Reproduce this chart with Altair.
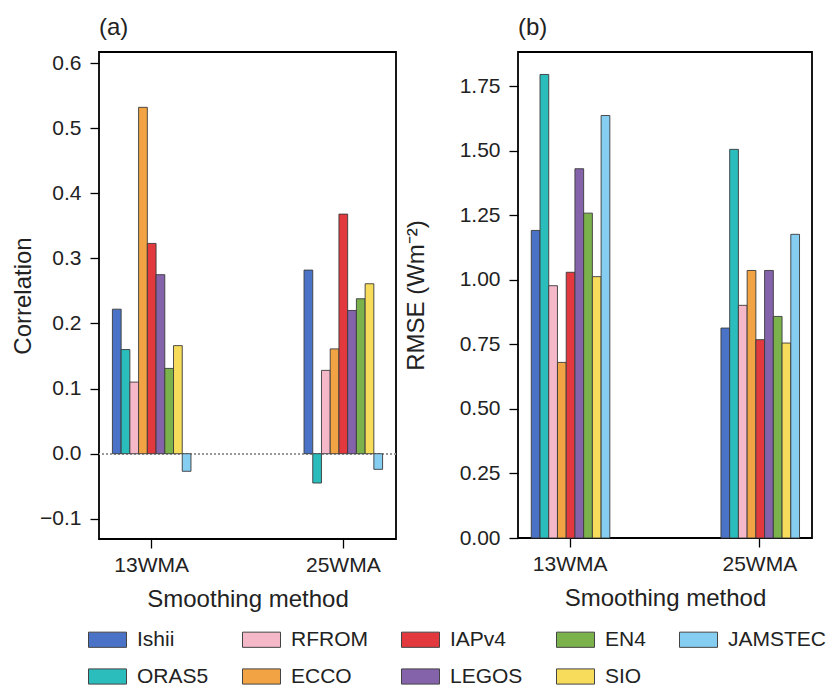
import altair as alt
import pandas as pd

methods = ["13WMA", "25WMA"]
datasets = ["Ishii", "ORAS5", "RFROM", "ECCO", "IAPv4", "LEGOS", "EN4", "SIO", "JAMSTEC"]
colors = ["#4a73c8", "#2bbcbc", "#f5b8c9", "#f2a444", "#e2393f", "#8563aa", "#7bb24c", "#f7dc5c", "#86cdf2"]

corr_13 = [0.222, 0.160, 0.110, 0.532, 0.323, 0.275, 0.131, 0.166, -0.027]
corr_25 = [0.282, -0.045, 0.128, 0.161, 0.368, 0.220, 0.238, 0.261, -0.024]
rmse_13 = [1.191, 1.795, 0.977, 0.680, 1.029, 1.430, 1.258, 1.012, 1.636]
rmse_25 = [0.813, 1.505, 0.901, 1.036, 0.768, 1.036, 0.858, 0.755, 1.176]

corr_ticks = [-0.1, 0.0, 0.1, 0.2, 0.3, 0.4, 0.5, 0.6]
rmse_ticks = [0.0, 0.25, 0.5, 0.75, 1.0, 1.25, 1.5, 1.75]

legend_order = ["Ishii", "RFROM", "IAPv4", "EN4", "JAMSTEC", "ORAS5", "ECCO", "LEGOS", "SIO"]
legend_colors = [colors[datasets.index(d)] for d in legend_order]

rows = []
for m, cv, rv in [(methods[0], corr_13, rmse_13), (methods[1], corr_25, rmse_25)]:
    for d, c, r in zip(datasets, cv, rv):
        rows.append({"method": m, "dataset": d, "corr": c, "rmse": r})
df = pd.DataFrame(rows)

FONT = "Liberation Sans"
TXT = "#222222"

fill_enc = alt.Fill(
    "dataset:N",
    scale=alt.Scale(domain=legend_order, range=legend_colors),
    legend=alt.Legend(
        title=None,
        orient="none",
        legendX=-11,
        legendY=568,
        direction="horizontal",
        columns=5,
        symbolType="M-1,-0.4L1,-0.4L1,0.4L-1,0.4Z",
        symbolSize=1444,
        symbolStrokeColor="#444444",
        symbolStrokeWidth=1,
        symbolOpacity=1,
        labelFontSize=21,
        labelFont=FONT,
        labelColor=TXT,
        labelOffset=10,
        columnPadding=31,
        rowPadding=7,
    ),
)

x_scale = alt.Scale(paddingInner=0.59, paddingOuter=0.07)
xoff = alt.XOffset("dataset:N", sort=datasets, scale=alt.Scale(paddingInner=0, paddingOuter=0))


def x_enc():
    return alt.X(
        "method:N",
        sort=methods,
        scale=x_scale,
        axis=alt.Axis(title="Smoothing method", labelAngle=0, labelPadding=6, titlePadding=12),
    )


def panel_title(txt):
    return alt.TitleParams(
        txt, anchor="start", frame="group", fontSize=24, fontWeight="normal", font=FONT, color=TXT, offset=12
    )


bars_a = alt.Chart(df).mark_bar(stroke="#3a3a3a", strokeWidth=0.9).encode(
    x=x_enc(),
    xOffset=xoff,
    y=alt.Y(
        "corr:Q",
        scale=alt.Scale(domain=[-0.131, 0.617], nice=False, zero=False),
        axis=alt.Axis(title="Correlation", values=corr_ticks, format=".1f", labelPadding=9, titlePadding=4),
    ),
    y2=alt.datum(0),
    fill=fill_enc,
)
zero_line = alt.Chart(df).mark_rule(color="#9a9a9a", strokeDash=[2, 2], strokeWidth=1).encode(y=alt.datum(0))

panel_a = alt.layer(zero_line, bars_a).properties(width=297, height=487, title=panel_title("(a)"))

bars_b = alt.Chart(df).mark_bar(stroke="#3a3a3a", strokeWidth=0.9).encode(
    x=x_enc(),
    xOffset=xoff,
    y=alt.Y(
        "rmse:Q",
        scale=alt.Scale(domain=[0, 1.882], nice=False, zero=False),
        axis=alt.Axis(title="RMSE (Wm\u207B\u00B2)", values=rmse_ticks, format=".2f", labelPadding=9, titlePadding=31),
    ),
    y2=alt.datum(0),
    fill=fill_enc,
)

panel_b = bars_b.properties(width=294, height=486, title=panel_title("(b)"))

chart = (
    alt.hconcat(panel_a, panel_b, spacing=5)
    .properties(padding={"left": 10, "top": 15, "right": 5, "bottom": 0})
    .configure(font=FONT)
    .configure_view(stroke="black", strokeWidth=1.8)
    .configure_axis(
        grid=False,
        domain=False,
        tickSize=9,
        tickWidth=1.3,
        tickColor="black",
        labelFontSize=21,
        labelFont=FONT,
        labelColor=TXT,
        titleFontSize=24,
        titleFont=FONT,
        titleFontWeight="normal",
        titleColor=TXT,
    )
    .configure_legend(gridAlign="each")
)

chart.save("out.html", embed_options={"renderer": "svg", "actions": False})
